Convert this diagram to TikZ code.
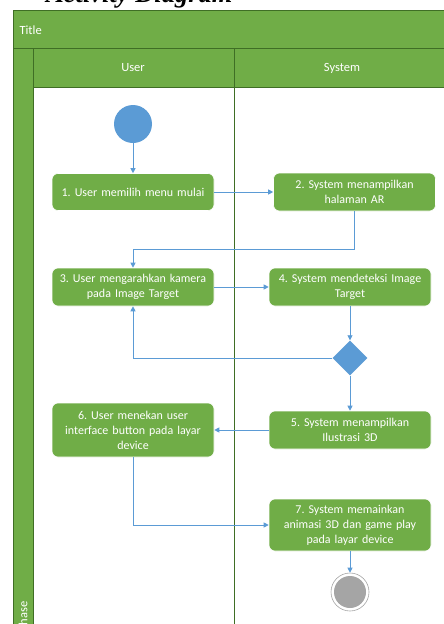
\documentclass[tikz,border=0pt]{standalone}
\usepackage{fontspec}
\setmainfont{Carlito}
\newfontfamily\headfont{Liberation Serif}
\usetikzlibrary{arrows.meta, shapes.geometric, positioning}
\definecolor{lanegreen}{HTML}{70AD47}
\definecolor{laneline}{HTML}{3F6E25}
\definecolor{flowblue}{HTML}{5B9BD5}
\definecolor{endgray}{HTML}{A5A5A5}
\frenchspacing

\tikzset{
  actbox/.style={draw=white, line width=0.6pt, fill=lanegreen, rounded corners=6pt, text=white,
    align=center, minimum width=162pt, text width=158pt, inner sep=0pt,
    font=\fontsize{12}{15}\selectfont},
  flow/.style={draw=flowblue, line width=0.8pt, -{Triangle[length=5pt,width=5pt]}},
  lanelabel/.style={white, font=\fontsize{12.5}{14}\selectfont},
}

\begin{document}
\begin{tikzpicture}[x=1pt, y=-1pt]
  \useasboundingbox (0,0) rectangle (444,624);
  \fill[white] (0,0) rectangle (444,624);

  % Heading (cut off by the page edge)
  \node[anchor=base west, font=\headfont\fontsize{26.5}{26.5}\selectfont\bfseries\itshape, inner sep=0pt]
    (heading) at (46,2) {Activity Diagram};

  % Pool background
  \fill[lanegreen] (13.5,10) rectangle (460,87);
  \fill[lanegreen] (13.5,87) rectangle (33,640);
  \draw[laneline, line width=0.8pt] (13.5,640) -- (13.5,10) -- (460,10);
  \draw[laneline, line width=0.6pt] (13.5,48) -- (460,48);
  \draw[laneline, line width=0.6pt] (33,48) -- (33,640);
  \draw[laneline, line width=0.6pt] (33,87) -- (460,87);
  \draw[laneline, line width=0.6pt] (234,48) -- (234,640);

  % Lane labels
  \node[lanelabel, anchor=west] (ttl) at (16,30) {Title};
  \node[lanelabel] (usr) at (133,68) {User};
  \node[lanelabel] (sys) at (342,68) {System};
  \node[lanelabel, rotate=90, anchor=east] (phs) at (23,598) {Phase};

  % Start and end
  \node[circle, fill=flowblue, minimum size=38pt, inner sep=0pt] (start) at (133,124) {};
  \node[circle, draw=endgray, line width=0.6pt, fill=white, minimum size=38pt, inner sep=0pt] (stop) at (350,592) {};
  \fill[endgray] (stop) circle (16);

  % Activities
  \node[actbox, minimum height=37pt] (a1) at (133,192) {1. User memilih menu mulai};
  \node[actbox, minimum height=38pt] (a2) at (354.5,192) {2. System menampilkan\\halaman AR};
  \node[actbox, minimum height=38pt] (a3) at (133,287) {3. User mengarahkan kamera\\pada Image Target};
  \node[actbox, minimum height=38pt] (a4) at (350,287) {4. System mendeteksi Image\\Target};
  \node[diamond, fill=flowblue, aspect=1, minimum size=35pt, inner sep=0pt] (dec) at (350,358) {};
  \node[actbox, minimum height=38pt] (a5) at (350,430) {5. System menampilkan\\Ilustrasi 3D};
  \node[actbox, minimum height=54pt] (a6) at (133,430) {6. User menekan user\\interface button pada layar\\device};
  \node[actbox, minimum height=52pt] (a7) at (350,525) {7. System memainkan\\animasi 3D dan game play\\pada layar device};

  % Flow
  \draw[flow] (start) -- (a1);
  \draw[flow] (a1) -- (a2);
  \draw[flow] (a2.south) -- ++(0,38) -| (a3.north);
  \draw[flow] (a3) -- (a4);
  \draw[flow] (a4) -- (dec);
  \draw[flow] (dec.west) -| (a3.south);
  \draw[flow] (dec) -- (a5);
  \draw[flow] (a5) -- (a6);
  \draw[flow] (a6.south) |- (a7.west);
  \draw[flow] (a7) -- (stop);
\end{tikzpicture}
\end{document}
